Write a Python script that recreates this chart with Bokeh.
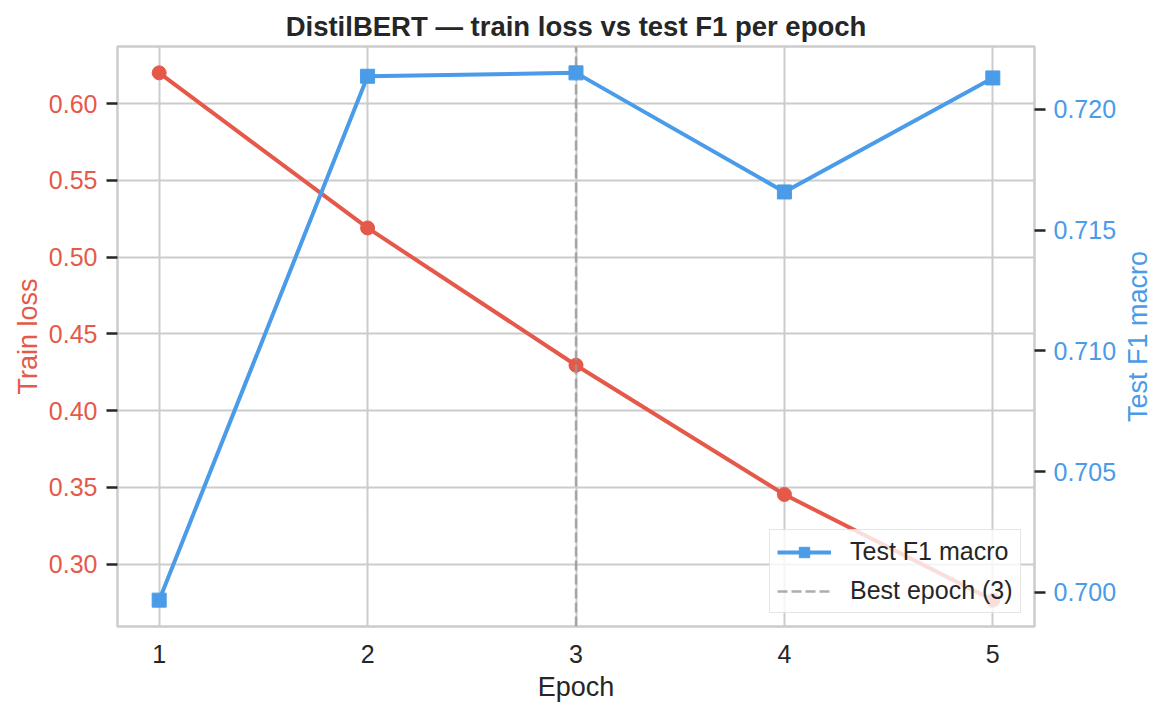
import math
from bokeh.plotting import figure
from bokeh.models import Range1d, LinearAxis, FixedTicker, NumeralTickFormatter, Grid, Legend, LegendItem, Label
from bokeh.embed import file_html
from bokeh.resources import INLINE

# ---- data ----
epochs = [1, 2, 3, 4, 5]
train_loss = [0.6200, 0.5190, 0.4296, 0.3454, 0.2766]
test_f1 = [0.69968, 0.72137, 0.72151, 0.71658, 0.72130]
best_epoch = 3
loss_ticks = [0.30, 0.35, 0.40, 0.45, 0.50, 0.55, 0.60]
f1_ticks = [0.700, 0.705, 0.710, 0.715, 0.720]

RED = "#E5594A"
BLUE = "#4A9BE8"
DARK = "#262626"
GRID = "#cccccc"
FONT = "Liberation Sans"

def padded(vals, frac=0.05):
    lo, hi = min(vals), max(vals)
    m = (hi - lo) * frac
    return lo - m, hi + m

l_lo, l_hi = padded(train_loss)
f_lo, f_hi = padded(test_f1)
x_lo, x_hi = padded(epochs)

p = figure(width=1164, height=716, output_backend="svg", toolbar_location=None,
           x_range=Range1d(x_lo, x_hi), y_range=Range1d(l_lo, l_hi),
           min_border_left=117, min_border_right=130, min_border_top=46, min_border_bottom=90)
p.extra_y_ranges = {"f1": Range1d(f_lo, f_hi)}

p.title.text = "DistilBERT \u2014 train loss vs test F1 per epoch"
p.title.align = "center"
p.title.text_font = FONT
p.title.text_font_size = "27.5px"
p.title.text_font_style = "bold"
p.title.text_color = DARK

p.outline_line_color = GRID
p.outline_line_width = 2.5
p.background_fill_color = "white"
p.border_fill_color = "white"

# x axis
xa = p.xaxis[0]
xa.ticker = FixedTicker(ticks=epochs)
xa.axis_label = "Epoch"
xa.axis_line_color = None
xa.major_tick_out = 0
xa.major_tick_in = 0
xa.minor_tick_out = 0
xa.minor_tick_in = 0
xa.major_label_standoff = 18
xa.axis_label_standoff = 6
xa.major_label_text_font = FONT
xa.major_label_text_font_size = "25px"
xa.major_label_text_color = DARK
xa.axis_label_text_font = FONT
xa.axis_label_text_font_size = "27px"
xa.axis_label_text_font_style = "normal"
xa.axis_label_text_color = DARK

# left axis
ya = p.yaxis[0]
ya.ticker = FixedTicker(ticks=loss_ticks)
ya.formatter = NumeralTickFormatter(format="0.00")
ya.axis_label = "Train loss"
ya.axis_line_color = None
ya.major_tick_out = 11
ya.major_tick_in = 0
ya.major_tick_line_color = DARK
ya.major_tick_line_width = 2.5
ya.minor_tick_out = 0
ya.minor_tick_in = 0
ya.major_label_standoff = 9
ya.axis_label_standoff = 3
ya.major_label_text_font = FONT
ya.major_label_text_font_size = "25px"
ya.major_label_text_color = RED
ya.axis_label_text_font = FONT
ya.axis_label_text_font_size = "27px"
ya.axis_label_text_font_style = "normal"
ya.axis_label_text_color = RED

# right axis
ra = LinearAxis(y_range_name="f1", ticker=FixedTicker(ticks=f1_ticks),
                formatter=NumeralTickFormatter(format="0.000"))
ra.axis_line_color = None
ra.major_tick_out = 11
ra.major_tick_in = 0
ra.major_tick_line_color = DARK
ra.major_tick_line_width = 2.5
ra.minor_tick_out = 0
ra.minor_tick_in = 0
ra.major_label_standoff = 8
ra.major_label_text_font = FONT
ra.major_label_text_font_size = "25px"
ra.major_label_text_color = BLUE
p.add_layout(ra, "right")

# right axis title, reading bottom-to-top as in the original
r_title = Label(x=x_hi, y=(f_lo + f_hi) / 2, y_range_name="f1", x_offset=103,
                text="Test F1 macro", angle=math.pi / 2, text_align="center",
                text_baseline="middle", text_font=FONT, text_font_size="27px",
                text_color=BLUE)
p.add_layout(r_title, "right")

# grids
p.xgrid.grid_line_color = GRID
p.xgrid.grid_line_width = 2
p.ygrid.grid_line_color = GRID
p.ygrid.grid_line_width = 2
g2 = Grid(dimension=1, axis=ra, grid_line_color=GRID, grid_line_width=2)
p.add_layout(g2, "center")

# train loss (red)
p.line(epochs, train_loss, line_color=RED, line_width=4)
p.scatter(epochs, train_loss, marker="circle", size=14, fill_color=RED, line_color=RED)

# best epoch vertical dashed line
best_r = p.line([best_epoch, best_epoch], [f_lo, f_hi], y_range_name="f1",
                line_color="#999999", line_alpha=0.8, line_width=2.5, line_dash="10 4")

# test F1 (blue)
f1_line = p.line(epochs, test_f1, y_range_name="f1", line_color=BLUE, line_width=4)
f1_pts = p.scatter(epochs, test_f1, y_range_name="f1", marker="square", size=14,
                   fill_color=BLUE, line_color=BLUE)

legend = Legend(items=[
    LegendItem(label="Test F1 macro", renderers=[f1_line, f1_pts]),
    LegendItem(label="Best epoch (3)", renderers=[best_r]),
], location="bottom_right")
legend.margin = 13
legend.padding = 7
legend.spacing = 10
legend.glyph_width = 54
legend.glyph_height = 26
legend.label_height = 26
legend.label_width = 163
legend.label_standoff = 19
legend.label_text_font = FONT
legend.label_text_font_size = "25px"
legend.label_text_color = DARK
legend.border_line_color = "#cccccc"
legend.border_line_width = 1.5
legend.background_fill_color = "white"
legend.background_fill_alpha = 0.8
p.add_layout(legend, "center")

open("out.html", "w").write(file_html(p, INLINE))
